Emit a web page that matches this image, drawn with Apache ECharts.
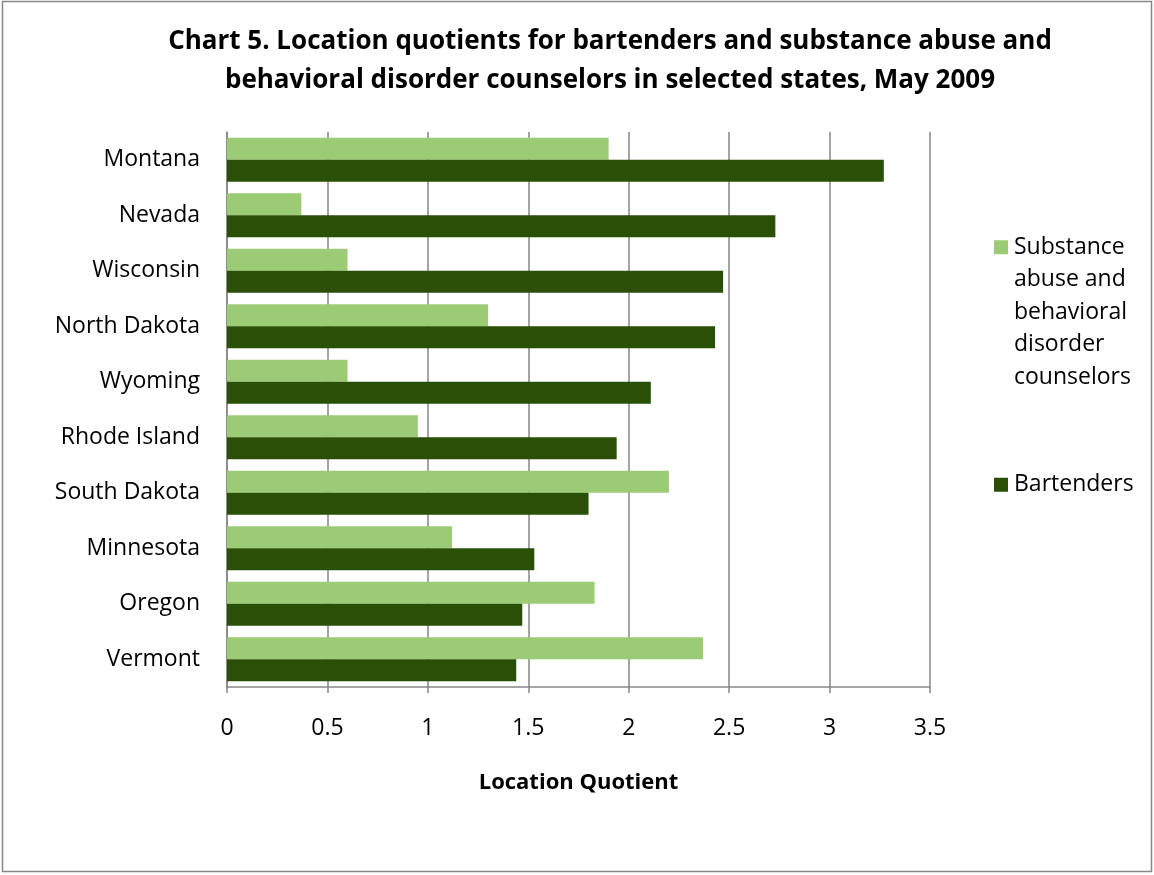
<!DOCTYPE html>
<html>
<head>
<meta charset="utf-8">
<script src="https://cdn.jsdelivr.net/npm/echarts@6/dist/echarts.min.js"></script>
<style>html,body{margin:0;padding:0;background:#fff}#c{width:1154px;height:875px}</style>
</head>
<body>
<div id="c"></div>
<script>
const states = ['Montana','Nevada','Wisconsin','North Dakota','Wyoming','Rhode Island','South Dakota','Minnesota','Oregon','Vermont'];
const counselors = [1.90, 0.37, 0.60, 1.30, 0.60, 0.95, 2.20, 1.12, 1.83, 2.37];
const bartenders = [3.27, 2.73, 2.47, 2.43, 2.11, 1.94, 1.80, 1.53, 1.47, 1.44];
const xTicks = [0, 0.5, 1, 1.5, 2, 2.5, 3, 3.5];
const seriesNames = ['Substance abuse and behavioral disorder counselors', 'Bartenders'];

const F = "'Open Sans', sans-serif";
const chart = echarts.init(document.getElementById('c'), null, {renderer: 'canvas'});
chart.setOption({
  animation: false,
  backgroundColor: '#fff',
  title: {
    text: 'Chart 5. Location quotients for bartenders and substance abuse and\nbehavioral disorder counselors in selected states, May 2009',
    left: 605, top: 17, textAlign: 'center',
    textStyle: {fontFamily: F, fontWeight: 'bold', fontSize: 26, lineHeight: 39, color: '#000'}
  },
  legend: {
    orient: 'vertical', left: 994, top: 101, padding: 0,
    itemWidth: 14, itemHeight: 14, itemGap: 75,
    icon: 'rect',
    data: seriesNames,
    formatter: function (n) {
      if (n === seriesNames[0]) return '\n\n\n\nSubstance\nabuse and\nbehavioral\ndisorder\ncounselors';
      return n;
    },
    textStyle: {fontFamily: F, fontSize: 23, lineHeight: 32.5, color: '#000', padding: [0,0,0,1]}
  },
  grid: {left: 227, right: 224, top: 132, bottom: 188, containLabel: false},
  xAxis: {
    type: 'value', min: xTicks[0], max: xTicks[xTicks.length-1], interval: 0.5,
    name: 'Location Quotient', nameLocation: 'middle', nameGap: 85,
    nameTextStyle: {fontFamily: F, fontWeight: 'bold', fontSize: 22, color: '#000'},
    axisLine: {show: true, lineStyle: {color: '#868686', width: 1.5}},
    axisTick: {show: true, length: 6, lineStyle: {color: '#868686', width: 1.5}},
    axisLabel: {fontFamily: F, fontSize: 23, color: '#000', margin: 30},
    splitLine: {show: true, lineStyle: {color: '#868686', width: 1.5}}
  },
  yAxis: {
    type: 'category', data: states, inverse: true,
    axisLine: {show: true, lineStyle: {color: '#868686', width: 1.5}},
    axisTick: {show: false},
    axisLabel: {fontFamily: F, fontSize: 23, color: '#000', margin: 27}
  },
  series: [
    {name: seriesNames[0], type: 'bar', data: counselors, barGap: '0%', barCategoryGap: '21%',
     itemStyle: {color: '#9BCB74'}},
    {name: seriesNames[1], type: 'bar', data: bartenders, barGap: '0%', barCategoryGap: '21%',
     itemStyle: {color: '#2A4F06'}}
  ],
  graphic: [{
    type: 'rect', shape: {x: 2.5, y: 1.5, width: 1149, height: 870}, silent: true, z: -1,
    style: {fill: 'none', stroke: '#878787', lineWidth: 1.5}
  }]
});
</script>
</body>
</html>
